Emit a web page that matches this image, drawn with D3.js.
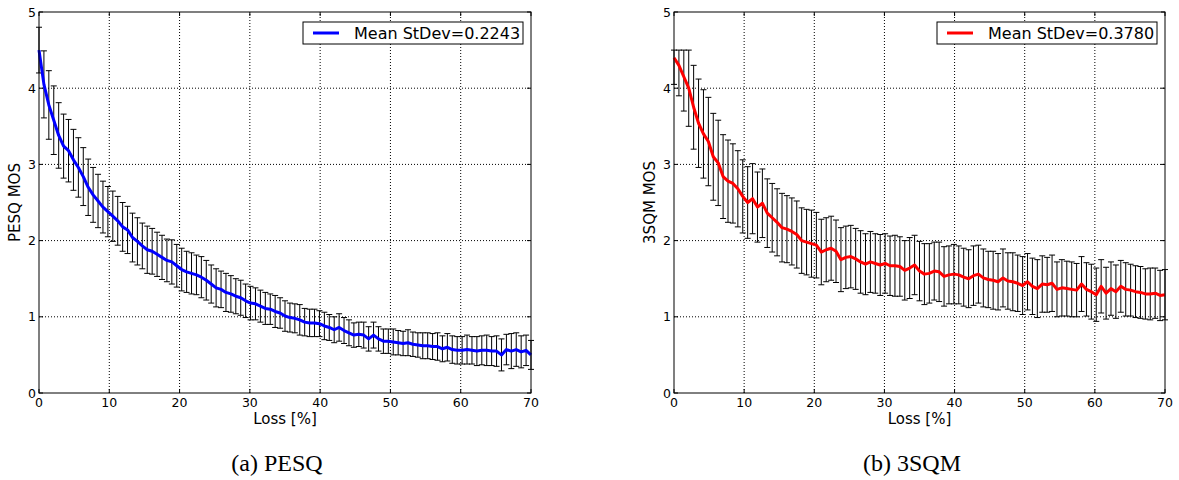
<!DOCTYPE html>
<html>
<head>
<meta charset="utf-8">
<script src="https://cdn.jsdelivr.net/npm/d3@7"></script>
<style>
  body { margin: 0; background: #fff; }
  svg { display: block; }
  .tick-label { font-family: "DejaVu Sans", sans-serif; font-size: 12.5px; fill: #000; }
  .axis-label { font-family: "DejaVu Sans", sans-serif; font-size: 15px; fill: #000; }
  .legend-text { font-family: "DejaVu Sans", sans-serif; font-size: 16px; fill: #000; }
  .caption { font-family: "Liberation Serif", serif; font-size: 24px; fill: #000; }
</style>
</head>
<body>
<svg id="chart" width="1179" height="480"></svg>
<script>
// loss steps: one point every 0.7 %
var lossStep = 0.7;

var pesqMean = [
  4.50, 4.05, 3.78, 3.58, 3.38, 3.24, 3.18, 3.06, 2.96, 2.84,
  2.70, 2.60, 2.52, 2.44, 2.38, 2.32, 2.26, 2.18, 2.14, 2.04,
  1.99, 1.93, 1.88, 1.86, 1.82, 1.78, 1.74, 1.72, 1.67, 1.62,
  1.59, 1.57, 1.55, 1.52, 1.48, 1.43, 1.38, 1.36, 1.32, 1.30,
  1.27, 1.25, 1.21, 1.18, 1.17, 1.14, 1.11, 1.10, 1.07, 1.05,
  1.01, 0.99, 0.98, 0.96, 0.93, 0.92, 0.92, 0.91, 0.88, 0.86,
  0.83, 0.86, 0.82, 0.79, 0.76, 0.77, 0.76, 0.71, 0.76, 0.71,
  0.68, 0.68, 0.67, 0.66, 0.65, 0.66, 0.64, 0.63, 0.62, 0.62,
  0.61, 0.61, 0.58, 0.60, 0.57, 0.56, 0.56, 0.57, 0.56, 0.55,
  0.56, 0.56, 0.55, 0.55, 0.50, 0.57, 0.55, 0.57, 0.54, 0.56,
  0.50
];
var pesqStd = [
  0.30, 0.44, 0.45, 0.45, 0.43, 0.42, 0.41, 0.40, 0.39, 0.38,
  0.37, 0.36, 0.35, 0.34, 0.33, 0.33, 0.32, 0.32, 0.31, 0.32,
  0.31, 0.30, 0.31, 0.30, 0.29, 0.29, 0.28, 0.29, 0.28, 0.28,
  0.27, 0.27, 0.26, 0.27, 0.26, 0.25, 0.25, 0.24, 0.25, 0.24,
  0.23, 0.23, 0.22, 0.22, 0.21, 0.21, 0.21, 0.20, 0.21, 0.20,
  0.20, 0.19, 0.19, 0.20, 0.18, 0.18, 0.18, 0.17, 0.18, 0.17,
  0.17, 0.18, 0.17, 0.17, 0.16, 0.16, 0.17, 0.16, 0.17, 0.16,
  0.16, 0.16, 0.17, 0.16, 0.16, 0.17, 0.16, 0.16, 0.17, 0.17,
  0.17, 0.18, 0.17, 0.18, 0.18, 0.18, 0.18, 0.19, 0.18, 0.19,
  0.19, 0.20, 0.19, 0.20, 0.21, 0.20, 0.23, 0.22, 0.21, 0.20,
  0.19
];

var sqmMean = [
  4.40, 4.30, 4.15, 4.00, 3.75, 3.54, 3.40, 3.30, 3.10, 3.02,
  2.84, 2.78, 2.75, 2.68, 2.58, 2.50, 2.55, 2.44, 2.49, 2.36,
  2.30, 2.24, 2.17, 2.15, 2.12, 2.08, 2.00, 1.98, 1.96, 1.94,
  1.85, 1.88, 1.90, 1.86, 1.75, 1.78, 1.79, 1.76, 1.72, 1.69,
  1.72, 1.70, 1.68, 1.70, 1.67, 1.67, 1.66, 1.61, 1.64, 1.68,
  1.60, 1.56, 1.57, 1.60, 1.59, 1.53, 1.55, 1.56, 1.55, 1.52,
  1.50, 1.54, 1.56, 1.51, 1.49, 1.48, 1.46, 1.51, 1.47, 1.46,
  1.44, 1.41, 1.46, 1.40, 1.37, 1.43, 1.42, 1.44, 1.36, 1.38,
  1.37, 1.36, 1.35, 1.43, 1.36, 1.33, 1.29, 1.40, 1.31, 1.37,
  1.33, 1.40, 1.36, 1.35, 1.33, 1.32, 1.30, 1.30, 1.31, 1.28,
  1.29
];
var sqmStd = [
  0.35, 0.40, 0.45, 0.50, 0.55, 0.58, 0.58, 0.58, 0.57, 0.56,
  0.55, 0.54, 0.52, 0.50, 0.48, 0.47, 0.46, 0.46, 0.45, 0.45,
  0.45, 0.44, 0.45, 0.44, 0.44, 0.44, 0.43, 0.43, 0.44, 0.43,
  0.43, 0.42, 0.42, 0.41, 0.42, 0.41, 0.41, 0.40, 0.41, 0.40,
  0.40, 0.39, 0.40, 0.39, 0.39, 0.40, 0.39, 0.39, 0.40, 0.39,
  0.39, 0.40, 0.39, 0.38, 0.39, 0.39, 0.38, 0.39, 0.38, 0.38,
  0.38, 0.39, 0.38, 0.38, 0.37, 0.38, 0.37, 0.38, 0.37, 0.38,
  0.37, 0.38, 0.37, 0.37, 0.38, 0.37, 0.36, 0.37, 0.36, 0.37,
  0.36, 0.36, 0.35, 0.36, 0.35, 0.36, 0.35, 0.35, 0.34, 0.35,
  0.35, 0.34, 0.35, 0.34, 0.34, 0.34, 0.33, 0.34, 0.33, 0.33,
  0.33
];

var xTicks = [0, 10, 20, 30, 40, 50, 60, 70];
var yTicks = [0, 1, 2, 3, 4, 5];

var svg = d3.select("#chart");

function drawPanel(p) {
  var x = d3.scaleLinear().domain([0, 70]).range([p.left, p.right]);
  var y = d3.scaleLinear().domain([0, 5]).range([393, 12]);
  var g = svg.append("g");

  var pts = p.mean.map(function(m, i) {
    var hi = m + p.std[i];
    if (p.maxTop != null) hi = Math.min(hi, p.maxTop);
    return { x: i * lossStep, m: m, lo: m - p.std[i], hi: hi };
  });

  // grid
  g.selectAll(".gx").data(xTicks.slice(1, -1)).enter().append("line")
    .attr("x1", function(d) { return x(d); }).attr("x2", function(d) { return x(d); })
    .attr("y1", y(0)).attr("y2", y(5))
    .attr("stroke", "#000").attr("stroke-dasharray", "1,2").attr("stroke-width", 1);
  g.selectAll(".gy").data(yTicks.slice(1, -1)).enter().append("line")
    .attr("x1", x(0)).attr("x2", x(70))
    .attr("y1", function(d) { return y(d); }).attr("y2", function(d) { return y(d); })
    .attr("stroke", "#000").attr("stroke-dasharray", "1,2").attr("stroke-width", 1);

  // error bars
  var eb = g.append("g").attr("stroke", "#000").attr("stroke-width", 1);
  eb.selectAll(".v").data(pts).enter().append("line")
    .attr("x1", function(d) { return x(d.x); }).attr("x2", function(d) { return x(d.x); })
    .attr("y1", function(d) { return y(d.lo); }).attr("y2", function(d) { return y(d.hi); });
  eb.selectAll(".ct").data(pts).enter().append("line")
    .attr("x1", function(d) { return x(d.x) - 3; }).attr("x2", function(d) { return x(d.x) + 3; })
    .attr("y1", function(d) { return y(d.hi); }).attr("y2", function(d) { return y(d.hi); });
  eb.selectAll(".cb").data(pts).enter().append("line")
    .attr("x1", function(d) { return x(d.x) - 3; }).attr("x2", function(d) { return x(d.x) + 3; })
    .attr("y1", function(d) { return y(d.lo); }).attr("y2", function(d) { return y(d.lo); });

  // mean line
  g.append("path").datum(pts)
    .attr("d", d3.line().x(function(d) { return x(d.x); }).y(function(d) { return y(d.m); }))
    .attr("fill", "none").attr("stroke", p.color).attr("stroke-width", 3)
    .attr("stroke-linejoin", "round");

  // frame
  g.append("rect").attr("x", x(0)).attr("y", y(5))
    .attr("width", x(70) - x(0)).attr("height", y(0) - y(5))
    .attr("fill", "none").attr("stroke", "#000").attr("stroke-width", 1);

  // inward ticks on all sides
  xTicks.forEach(function(t) {
    g.append("line").attr("x1", x(t)).attr("x2", x(t)).attr("y1", y(0)).attr("y2", y(0) - 4).attr("stroke", "#000");
    g.append("line").attr("x1", x(t)).attr("x2", x(t)).attr("y1", y(5)).attr("y2", y(5) + 4).attr("stroke", "#000");
  });
  yTicks.forEach(function(t) {
    g.append("line").attr("x1", x(0)).attr("x2", x(0) + 4).attr("y1", y(t)).attr("y2", y(t)).attr("stroke", "#000");
    g.append("line").attr("x1", x(70)).attr("x2", x(70) - 4).attr("y1", y(t)).attr("y2", y(t)).attr("stroke", "#000");
  });

  // tick labels
  g.selectAll(".xl").data(xTicks).enter().append("text")
    .attr("class", "tick-label").attr("text-anchor", "middle")
    .attr("x", function(d) { return x(d); }).attr("y", 407)
    .text(function(d) { return d; });
  g.selectAll(".yl").data(yTicks).enter().append("text")
    .attr("class", "tick-label").attr("text-anchor", "end")
    .attr("x", x(0) - 3).attr("y", function(d) { return y(d); }).attr("dy", "0.36em")
    .text(function(d) { return d; });

  // axis labels
  g.append("text").attr("class", "axis-label").attr("text-anchor", "middle")
    .attr("x", (x(0) + x(70)) / 2).attr("y", 424).text("Loss [%]");
  g.append("text").attr("class", "axis-label").attr("text-anchor", "middle")
    .attr("transform", "translate(" + (x(0) - 24) + "," + (y(0) + y(5)) / 2 + ") rotate(-90)")
    .attr("dy", "0.36em").text(p.ylabel);

  // legend
  var lw = 220, lx = x(70) - 8 - lw, ly = y(5) + 10;
  var lg = g.append("g");
  lg.append("rect").attr("x", lx).attr("y", ly).attr("width", lw).attr("height", 22)
    .attr("fill", "#fff").attr("stroke", "#000").attr("stroke-width", 1);
  lg.append("line").attr("x1", lx + 10).attr("x2", lx + 36).attr("y1", ly + 11).attr("y2", ly + 11)
    .attr("stroke", p.color).attr("stroke-width", 3);
  lg.append("text").attr("class", "legend-text").attr("x", lx + 51).attr("y", ly + 17).text(p.legend);

  // caption
  svg.append("text").attr("class", "caption").attr("text-anchor", "middle")
    .attr("x", p.captionX).attr("y", 471).text(p.caption);
}

drawPanel({ left: 39, right: 531, mean: pesqMean, std: pesqStd, color: "#0000ff",
  ylabel: "PESQ MOS", legend: "Mean StDev=0.2243", caption: "(a) PESQ", captionX: 277, maxTop: null });
drawPanel({ left: 674, right: 1165, mean: sqmMean, std: sqmStd, color: "#ff0000",
  ylabel: "3SQM MOS", legend: "Mean StDev=0.3780", caption: "(b) 3SQM", captionX: 912, maxTop: 4.5 });
</script>
</body>
</html>
